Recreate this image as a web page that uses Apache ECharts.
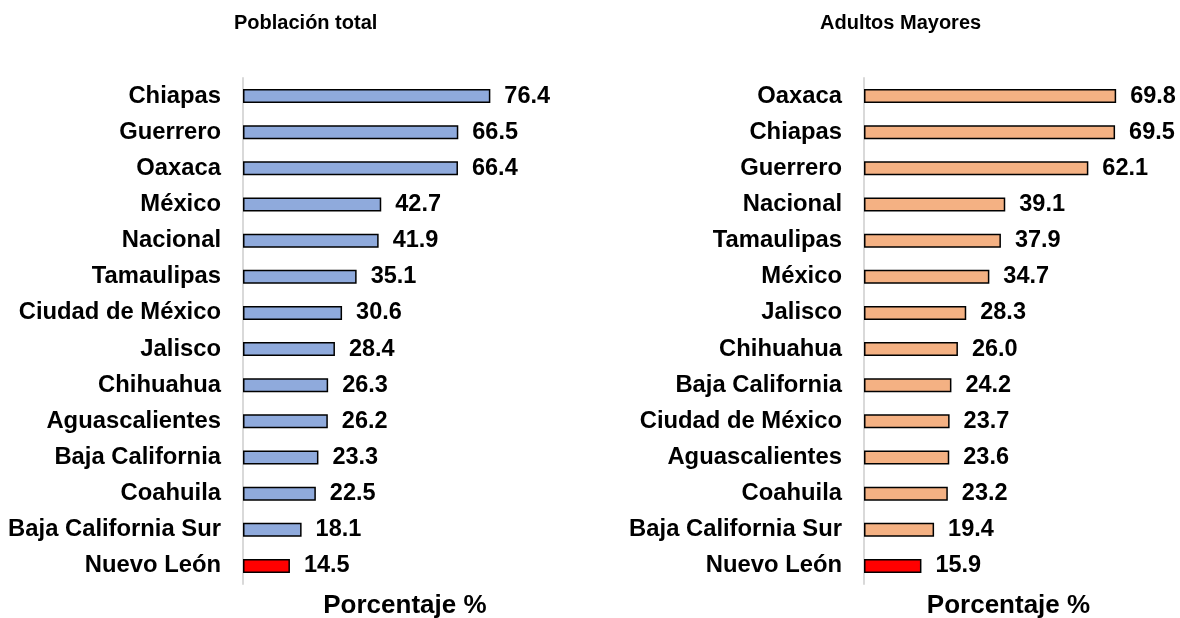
<html>
<head>
    <meta charset="utf-8">
    <title>Población total / Adultos Mayores</title>
    <script src="https://cdn.jsdelivr.net/npm/echarts@6/dist/echarts.min.js"></script>
</head>
<body style="margin:0">
    <div id="main" style="width:1180px;height:618px"></div>
    <script type="text/javascript">
        // datos panel izquierdo
        var estadosTotal = ['Chiapas', 'Guerrero', 'Oaxaca', 'México', 'Nacional', 'Tamaulipas', 'Ciudad de México',
            'Jalisco', 'Chihuahua', 'Aguascalientes', 'Baja California', 'Coahuila', 'Baja California Sur', 'Nuevo León'];
        var valoresTotal = [76.4, 66.5, 66.4, 42.7, 41.9, 35.1, 30.6, 28.4, 26.3, 26.2, 23.3, 22.5, 18.1, 14.5];

        // datos panel derecho
        var estadosMayores = ['Oaxaca', 'Chiapas', 'Guerrero', 'Nacional', 'Tamaulipas', 'México', 'Jalisco',
            'Chihuahua', 'Baja California', 'Ciudad de México', 'Aguascalientes', 'Coahuila', 'Baja California Sur', 'Nuevo León'];
        var valoresMayores = [69.8, 69.5, 62.1, 39.1, 37.9, 34.7, 28.3, 26.0, 24.2, 23.7, 23.6, 23.2, 19.4, 15.9];

        var resaltado = 'Nuevo León';
        var font = 'Arial, "Liberation Sans", sans-serif';

        var myChart = echarts.init(document.getElementById('main'));

        function xEje(idx, max) {
            return {
                type: 'value', gridIndex: idx, min: 0, max: max,
                axisLine: {show: false}, axisTick: {show: false},
                axisLabel: {show: false}, splitLine: {show: false},
                name: 'Porcentaje %', nameLocation: 'middle', nameGap: 8.5,
                nameTextStyle: {fontFamily: font, fontWeight: 'bold', fontSize: 26, color: '#000', verticalAlign: 'top'}
            };
        }
        function yEje(idx, cats) {
            return {
                type: 'category', gridIndex: idx, data: cats, inverse: true,
                axisLine: {show: true, lineStyle: {color: '#d9d9d9', width: 2}},
                axisTick: {show: false},
                axisLabel: {margin: 22, fontFamily: font, fontWeight: 'bold', fontSize: 23.8, color: '#000'}
            };
        }
        function serie(idx, vals, color) {
            return {
                type: 'bar', xAxisIndex: idx, yAxisIndex: idx, data: vals, barWidth: 14,
                itemStyle: {
                    borderColor: '#000', borderWidth: 1.5,
                    color: function (p) { return p.name === resaltado ? '#ff0000' : color; }
                },
                label: {
                    show: true, position: 'right', distance: 14,
                    fontFamily: font, fontWeight: 'bold', fontSize: 23.5, color: '#000',
                    formatter: function (p) { return p.value.toFixed(1); }
                }
            };
        }

        var option = {
            animation: false,
            backgroundColor: '#fff',
            title: [
                {text: 'Población total', left: 229, top: 8,
                 textStyle: {fontFamily: font, fontWeight: 'bold', fontSize: 20, color: '#000'}},
                {text: 'Adultos Mayores', left: 815, top: 8,
                 textStyle: {fontFamily: font, fontWeight: 'bold', fontSize: 20, color: '#000'}}
            ],
            grid: [
                {left: 243, width: 323.75, top: 78, bottom: 34, outerBoundsMode: 'none'},
                {left: 864, width: 289, top: 78, bottom: 34, outerBoundsMode: 'none'}
            ],
            xAxis: [xEje(0, 100), xEje(1, 80)],
            yAxis: [yEje(0, estadosTotal), yEje(1, estadosMayores)],
            series: [serie(0, valoresTotal, '#8faadc'), serie(1, valoresMayores, '#f4b183')]
        };
        myChart.setOption(option);
    </script>
</body>
</html>
